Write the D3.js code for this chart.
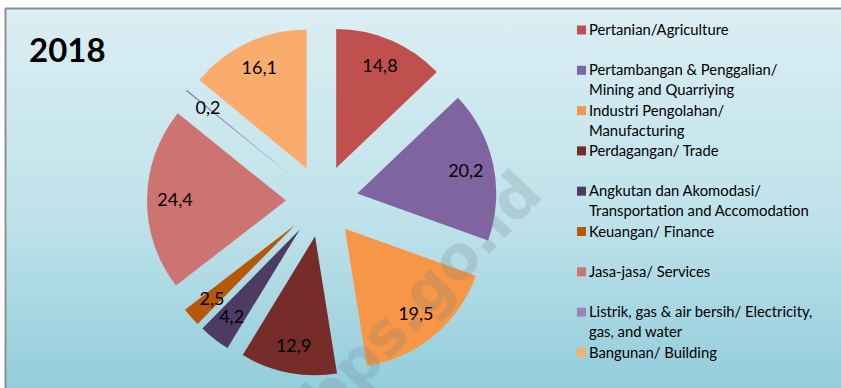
<!DOCTYPE html>
<html>
<head>
<meta charset="utf-8">
<script src="https://cdn.jsdelivr.net/npm/d3@7"></script>
<style>
  html, body { margin: 0; padding: 0; background: #ffffff; }
  svg { display: block; }
</style>
</head>
<body>
<svg id="chart" width="841" height="388"></svg>
<script>
// Share of each sector, 2018 (slices run clockwise from 12 o'clock)
const sectors = [
  "Pertanian/Agriculture",
  "Pertambangan & Penggalian/|Mining and Quarriying",
  "Industri Pengolahan/|Manufacturing",
  "Perdagangan/ Trade",
  "Angkutan dan Akomodasi/|Transportation and Accomodation",
  "Keuangan/ Finance",
  "Jasa-jasa/ Services",
  "Listrik, gas & air bersih/ Electricity,|gas, and water",
  "Bangunan/ Building"
];
const values = [14.8, 20.2, 19.5, 12.9, 4.2, 2.5, 24.4, 0.2, 16.1];
const valueLabels = ["14,8", "20,2", "19,5", "12,9", "4,2", "2,5", "24,4", "0,2", "16,1"];
const colors = ["#c0504d", "#8064a2", "#f79646", "#772c2a", "#4e3b63",
                "#b75708", "#cd7371", "#9a84b6", "#f9ac6c"];
const title = "2018";
const watermark = "bps.go.id";

const W = 841, H = 388;
const svg = d3.select("#chart");
const font = "Lato, 'Open Sans', sans-serif";

// Background panel with vertical gradient and grey frame on top/left
const defs = svg.append("defs");
const grad = defs.append("linearGradient")
  .attr("id", "bg").attr("x1", 0).attr("y1", 0).attr("x2", 0).attr("y2", 1);
grad.append("stop").attr("offset", "0%").attr("stop-color", "#dbeef4");
grad.append("stop").attr("offset", "55%").attr("stop-color", "#bfe2ea");
grad.append("stop").attr("offset", "100%").attr("stop-color", "#93cddc");

svg.append("rect").attr("x", 6).attr("y", 9).attr("width", W - 6).attr("height", H - 9)
  .attr("fill", "url(#bg)");
svg.append("line").attr("x1", 5).attr("x2", W).attr("y1", 8.5).attr("y2", 8.5)
  .attr("stroke", "#8f8f8f").attr("stroke-width", 2);
svg.append("line").attr("x1", 5.5).attr("x2", 5.5).attr("y1", 8).attr("y2", H)
  .attr("stroke", "#8f8f8f").attr("stroke-width", 2);

// Title
svg.append("text")
  .attr("x", 29).attr("y", 62)
  .attr("font-family", font).attr("font-weight", 700).attr("font-size", 33)
  .attr("fill", "#000").text(title);

// Exploded pie
const cx = 322, cy = 201, radius = 139, explode = 36, labelOffset = 111;
const pie = d3.pie().sort(null).value(d => d)(values);
const arc = d3.arc().innerRadius(0).outerRadius(radius);
const labelArc = d3.arc().innerRadius(labelOffset).outerRadius(labelOffset);

const pieG = svg.append("g").attr("transform", `translate(${cx},${cy})`);
const slice = pieG.selectAll("g.slice").data(pie).join("g")
  .attr("class", "slice")
  .attr("transform", d => {
    const a = (d.startAngle + d.endAngle) / 2;
    return `translate(${explode * Math.sin(a)},${-explode * Math.cos(a)})`;
  });

slice.append("path")
  .attr("d", arc)
  .attr("fill", (d, i) => colors[i]);

// Faint diagonal watermark over the pie
svg.append("text")
  .attr("transform", "translate(328,424) rotate(-46.5)")
  .attr("font-family", "'DejaVu Sans', sans-serif").attr("font-weight", 700)
  .attr("font-size", 60)
  .attr("fill", "#6f7f84").attr("fill-opacity", 0.22)
  .text(watermark);

// Value labels
slice.append("text")
  .attr("transform", d => `translate(${labelArc.centroid(d)})`)
  .attr("text-anchor", "middle").attr("dy", "0.35em")
  .attr("font-family", font).attr("font-size", 18).attr("fill", "#000")
  .text((d, i) => valueLabels[i]);

// Legend
const legend = svg.append("g").attr("transform", "translate(577,30)");
const rowH = 40.3, lineH = 20;
const item = legend.selectAll("g").data(sectors).join("g")
  .attr("transform", (d, i) => `translate(0,${i * rowH})`);
item.append("rect").attr("x", 0).attr("y", -4.5).attr("width", 9).attr("height", 9)
  .attr("fill", (d, i) => colors[i]);
item.append("text")
  .attr("x", 12).attr("y", 0)
  .attr("font-family", font).attr("font-size", 14.8).attr("fill", "#000")
  .selectAll("tspan").data(d => d.split("|")).join("tspan")
  .attr("x", 12).attr("dy", (d, j) => j === 0 ? "0.35em" : lineH)
  .text(d => d);
</script>
</body>
</html>
